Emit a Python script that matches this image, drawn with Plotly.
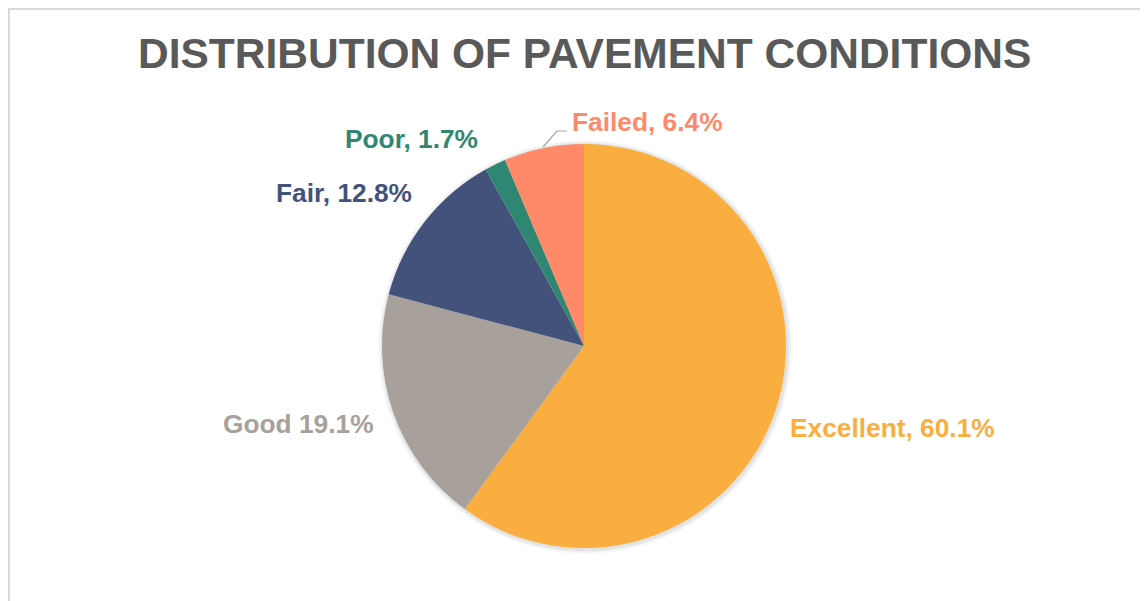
import plotly.graph_objects as go

categories = ["Excellent", "Good", "Fair", "Poor", "Failed"]
shares = [60.1, 19.1, 12.8, 1.7, 6.4]
label_texts = ["Excellent, 60.1%", "Good 19.1%", "Fair, 12.8%", "Poor, 1.7%", "Failed, 6.4%"]
colors = ["#F9AE3F", "#A8A19B", "#43527B", "#2F8672", "#FE8A6A"]
title_text = "DISTRIBUTION OF PAVEMENT CONDITIONS"

W, H = 1148, 601
OFF = 8  # page body margin
FONT = "Liberation Sans, Arial, sans-serif"

# label centre positions (pixels, in screenshot coordinates)
label_pos = [(892, 428), (298, 424), (344, 193), (411, 139), (647, 122)]


def px(x, y):
    return (x - OFF) / W, 1 - (y - OFF) / H


fig = go.Figure()
cx, cy, r = 584, 346, 202
dx0, dy0 = px(cx - r, cy + r)
dx1, dy1 = px(cx + r, cy - r)
fig.add_trace(go.Pie(
    labels=categories,
    values=shares,
    sort=False,
    direction="clockwise",
    rotation=0,
    marker=dict(colors=colors, line=dict(width=0)),
    textinfo="none",
    hoverinfo="label+percent",
    showlegend=False,
    domain=dict(x=[dx0, dx1], y=[dy0, dy1]),
))

annotations = []
for txt, col, (x, y) in zip(label_texts, colors, label_pos):
    ax, ay = px(x, y)
    annotations.append(dict(
        x=ax, y=ay, xref="paper", yref="paper", text=f"<b>{txt}</b>",
        showarrow=False, xanchor="center", yanchor="middle",
        font=dict(family=FONT, size=26.3, color=col),
    ))

tx, ty = px(584, 53)
annotations.append(dict(
    x=tx, y=ty, xref="paper", yref="paper", text=f"<b>{title_text}</b>",
    showarrow=False, xanchor="center", yanchor="middle",
    font=dict(family=FONT, size=42.5, color="#595959"),
))

_, by1 = px(7, 9)
shapes = [
    dict(type="rect", xref="paper", yref="paper",
         x0=1 / W, x1=1.05, y0=-0.05, y1=by1,
         line=dict(color="#D9D9D9", width=2), layer="below"),
]
# soft shadow around pie
for grow, alpha in [(5, 0.025), (3.5, 0.035), (2, 0.05)]:
    sx0, sy0 = px(cx - r - grow + 1, cy + r + grow + 1)
    sx1, sy1 = px(cx + r + grow + 1, cy - r - grow + 1)
    shapes.append(dict(type="circle", xref="paper", yref="paper",
                       x0=sx0, x1=sx1, y0=sy0, y1=sy1,
                       fillcolor=f"rgba(0,0,0,{alpha})", line=dict(width=0),
                       layer="below"))
# leader line for Failed label
p1 = px(543, 147)
p2 = px(557, 131)
p3 = px(567, 131)
shapes.append(dict(type="path", xref="paper", yref="paper",
                   path=f"M {p1[0]} {p1[1]} L {p2[0]} {p2[1]} L {p3[0]} {p3[1]}",
                   line=dict(color="#A6A6A6", width=1.2)))

fig.update_layout(
    width=W, height=H,
    margin=dict(l=0, r=0, t=0, b=0),
    paper_bgcolor="white",
    plot_bgcolor="white",
    annotations=annotations,
    shapes=shapes,
)

fig.write_html("out.html")
